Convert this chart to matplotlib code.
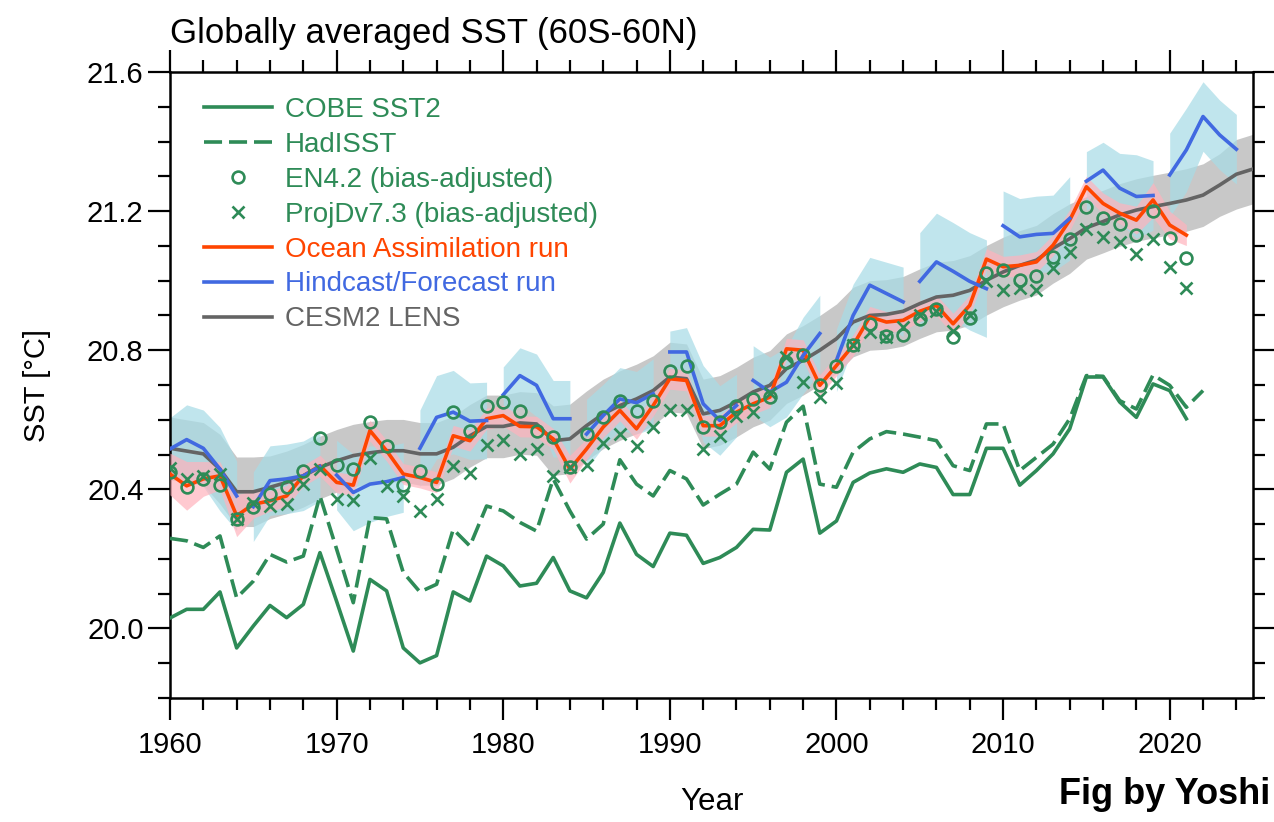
import numpy as np
import matplotlib
matplotlib.use("Agg")
import matplotlib.pyplot as plt
from matplotlib.ticker import MultipleLocator

plt.rcParams['font.family'] = ['Liberation Sans', 'DejaVu Sans']
plt.rcParams['lines.scale_dashes'] = False

# ---------------- data ----------------
cobe_years = list(range(1960, 2022))
cobe = [20.030, 20.055, 20.055, 20.105, 19.944, 20.007, 20.066, 20.031, 20.069, 20.218,
        20.078, 19.935, 20.141, 20.108, 19.944, 19.901, 19.922, 20.105, 20.079, 20.208,
        20.180, 20.122, 20.130, 20.204, 20.108, 20.088, 20.161, 20.303, 20.213, 20.178,
        20.274, 20.268, 20.187, 20.204, 20.233, 20.285, 20.283, 20.449, 20.487, 20.274,
        20.309, 20.420, 20.447, 20.459, 20.449, 20.473, 20.463, 20.385, 20.385, 20.518,
        20.518, 20.412, 20.454, 20.502, 20.574, 20.723, 20.723, 20.651, 20.607, 20.703,
        20.684, 20.603]

had_years = list(range(1960, 2023))
hadisst = [20.259, 20.252, 20.233, 20.266, 20.088, 20.136, 20.213, 20.191, 20.208, 20.381,
           20.228, 20.074, 20.319, 20.315, 20.161, 20.105, 20.127, 20.285, 20.237, 20.352,
           20.338, 20.305, 20.280, 20.430, 20.338, 20.257, 20.300, 20.485, 20.415, 20.381,
           20.454, 20.430, 20.355, 20.386, 20.415, 20.507, 20.458, 20.593, 20.639, 20.415,
           20.406, 20.507, 20.545, 20.566, 20.559, 20.550, 20.540, 20.468, 20.454, 20.588,
           20.588, 20.454, 20.492, 20.530, 20.603, 20.727, 20.725, 20.655, 20.631, 20.729,
           20.699, 20.636, 20.684]

obs_years = list(range(1960, 2022))
en4 = [20.450, 20.406, 20.430, 20.412, 20.314, 20.348, 20.386, 20.406, 20.454, 20.547,
       20.470, 20.458, 20.593, 20.524, 20.412, 20.454, 20.415, 20.622, 20.567, 20.639,
       20.651, 20.624, 20.568, 20.550, 20.463, 20.559, 20.607, 20.655, 20.624, 20.653,
       20.739, 20.756, 20.579, 20.595, 20.641, 20.660, 20.665, 20.766, 20.785, 20.699,
       20.756, 20.814, 20.876, 20.840, 20.843, 20.889, 20.918, 20.838, 20.893, 21.021,
       21.030, 21.001, 21.014, 21.069, 21.121, 21.213, 21.179, 21.162, 21.131, 21.200,
       21.124, 21.064]
projd = [20.460, 20.430, 20.439, 20.444, 20.314, 20.360, 20.353, 20.357, 20.415, 20.458,
         20.372, 20.370, 20.489, 20.410, 20.381, 20.338, 20.372, 20.468, 20.447, 20.528,
         20.543, 20.502, 20.515, 20.437, 20.463, 20.470, 20.533, 20.559, 20.526, 20.579,
         20.627, 20.627, 20.516, 20.554, 20.612, 20.622, 20.677, 20.780, 20.708, 20.665,
         20.706, 20.814, 20.852, 20.837, 20.867, 20.900, 20.912, 20.854, 20.902, 20.998,
         20.972, 20.979, 20.972, 21.035, 21.083, 21.150, 21.126, 21.110, 21.078, 21.121,
         21.040, 20.979]

oar_years = list(range(1960, 2022))
oar = [20.444, 20.410, 20.430, 20.439, 20.324, 20.357, 20.367, 20.381, 20.439, 20.468,
       20.420, 20.412, 20.569, 20.511, 20.444, 20.434, 20.420, 20.554, 20.540, 20.603,
       20.612, 20.581, 20.580, 20.545, 20.458, 20.516, 20.579, 20.627, 20.574, 20.641,
       20.718, 20.713, 20.583, 20.583, 20.622, 20.646, 20.665, 20.804, 20.800, 20.699,
       20.756, 20.814, 20.896, 20.881, 20.886, 20.912, 20.929, 20.876, 20.929, 21.062,
       21.040, 21.044, 21.054, 21.102, 21.174, 21.270, 21.222, 21.194, 21.174, 21.232,
       21.160, 21.131]
oar_spread = [0.06, 0.07, 0.05, 0.04, 0.06, 0.04, 0.03, 0.03, 0.03, 0.03,
              0.03, 0.03, 0.03, 0.03, 0.03, 0.03, 0.03, 0.03, 0.03, 0.03,
              0.03, 0.03, 0.03, 0.03, 0.04, 0.03, 0.03, 0.03, 0.03, 0.03,
              0.03, 0.03, 0.03, 0.03, 0.03, 0.03, 0.03, 0.03, 0.03, 0.03,
              0.03, 0.03, 0.03, 0.03, 0.03, 0.03, 0.03, 0.03, 0.03, 0.03,
              0.03, 0.03, 0.03, 0.03, 0.03, 0.03, 0.03, 0.03, 0.04, 0.05,
              0.04, 0.03]

lens_years = list(range(1960, 2026))
lens = [20.518, 20.510, 20.502, 20.458, 20.393, 20.393, 20.406, 20.420, 20.439, 20.463,
        20.482, 20.497, 20.505, 20.511, 20.511, 20.502, 20.502, 20.521, 20.554, 20.581,
        20.581, 20.591, 20.588, 20.540, 20.545, 20.583, 20.617, 20.641, 20.660, 20.684,
        20.723, 20.718, 20.617, 20.627, 20.651, 20.680, 20.699, 20.747, 20.771, 20.800,
        20.833, 20.881, 20.900, 20.903, 20.912, 20.934, 20.953, 20.958, 20.972, 21.001,
        21.025, 21.044, 21.059, 21.093, 21.121, 21.152, 21.170, 21.189, 21.203, 21.213,
        21.222, 21.232, 21.246, 21.275, 21.306, 21.321]
lens_spread = [0.09, 0.09, 0.09, 0.10, 0.10, 0.10, 0.09, 0.09, 0.09, 0.09,
               0.09, 0.09, 0.09, 0.09, 0.09, 0.09, 0.09, 0.09, 0.09, 0.09,
               0.09, 0.09, 0.09, 0.10, 0.10, 0.10, 0.10, 0.10, 0.10, 0.10,
               0.10, 0.10, 0.10, 0.10, 0.10, 0.10, 0.10, 0.10, 0.10, 0.10,
               0.10, 0.10, 0.10, 0.10, 0.10, 0.10, 0.10, 0.10, 0.10, 0.10,
               0.10, 0.10, 0.10, 0.10, 0.10, 0.09, 0.09, 0.09, 0.09, 0.09,
               0.09, 0.09, 0.09, 0.09, 0.10, 0.10]

# Hindcast/forecast: 5-year segments starting every 5 years
hind_starts = list(range(1960, 2021, 5))
hind = [[20.516, 20.543, 20.518, 20.458, 20.381],
        [20.350, 20.425, 20.430, 20.439, 20.466],
        [20.441, 20.391, 20.415, 20.422, 20.434],
        [20.518, 20.607, 20.622, 20.596, 20.598],
        [20.672, 20.727, 20.699, 20.603, 20.603],
        [20.559, 20.612, 20.660, 20.649, 20.675],
        [20.795, 20.795, 20.646, 20.598, 20.641],
        [20.713, 20.680, 20.708, 20.785, 20.848],
        [20.771, 20.900, 20.987, 20.963, 20.939],
        [20.998, 21.054, 21.027, 20.998, 20.977],
        [21.158, 21.126, 21.133, 21.136, 21.179],
        [21.286, 21.318, 21.266, 21.242, 21.245],
        [21.304, 21.376, 21.472, 21.419, 21.378]]
hind_spread = [[0.09, 0.10, 0.11, 0.12, 0.10],
               [0.10, 0.10, 0.10, 0.10, 0.10],
               [0.10, 0.11, 0.11, 0.10, 0.10],
               [0.11, 0.12, 0.12, 0.11, 0.11],
               [0.08, 0.08, 0.09, 0.11, 0.11],
               [0.10, 0.09, 0.09, 0.09, 0.10],
               [0.06, 0.07, 0.11, 0.10, 0.09],
               [0.10, 0.10, 0.10, 0.11, 0.11],
               [0.09, 0.09, 0.08, 0.09, 0.10],
               [0.14, 0.14, 0.14, 0.14, 0.14],
               [0.10, 0.11, 0.11, 0.11, 0.12],
               [0.085, 0.08, 0.10, 0.12, 0.10],
               [0.12, 0.12, 0.10, 0.10, 0.10]]

labels = ["COBE SST2", "HadISST", "EN4.2 (bias-adjusted)", "ProjDv7.3 (bias-adjusted)",
          "Ocean Assimilation run", "Hindcast/Forecast run", "CESM2 LENS"]

# ---------------- styles ----------------
GREEN = "#2e8b57"
ORANGE = "#ff4500"
BLUE = "#4169e1"
GRAY = "#646464"
LW = 2.6

fig = plt.figure(figsize=(12.74, 8.22), dpi=100)
ax = fig.add_axes([170/1274, 1-698/822, (1253-170)/1274, (698-72)/822])

# shading
ly = np.array(lens_years); lv = np.array(lens); ls = np.array(lens_spread)
ax.fill_between(ly, lv - ls, lv + ls, color="#c8c8c8", lw=0, zorder=1)
for s, vals, spr in zip(hind_starts, hind, hind_spread):
    yrs = np.arange(s, s + len(vals))
    v = np.array(vals); sp = np.array(spr)
    ax.fill_between(yrs, v - sp, v + sp, color="#a8dce6", alpha=0.72, lw=0, zorder=2)
ov = np.array(oar); osp = np.array(oar_spread)
ax.fill_between(oar_years, ov - osp, ov + osp, color="#ffb3bd", alpha=0.7, lw=0, zorder=3)

# lines
h_lens, = ax.plot(lens_years, lens, color=GRAY, lw=LW, zorder=4)
h_cobe, = ax.plot(cobe_years, cobe, color=GREEN, lw=LW, zorder=5)
h_had, = ax.plot(had_years, hadisst, color=GREEN, lw=LW, dashes=(13, 5), zorder=5)
h_oar, = ax.plot(oar_years, oar, color=ORANGE, lw=LW, zorder=6)
h_hind = None
for s, vals in zip(hind_starts, hind):
    h_hind, = ax.plot(range(s, s + len(vals)), vals, color=BLUE, lw=LW, zorder=7)
h_en4, = ax.plot(obs_years, en4, ls="none", marker="o", ms=8.5, mfc="none", mec=GREEN, mew=1.9, zorder=8)
h_pd, = ax.plot(obs_years, projd, ls="none", marker="x", ms=8.5, mec=GREEN, mew=1.9, zorder=8)

# axes formatting
ax.set_xlim(1960, 2025)
ax.set_ylim(19.8, 21.6)
ax.xaxis.set_major_locator(MultipleLocator(10))
ax.xaxis.set_minor_locator(MultipleLocator(2))
ax.yaxis.set_major_locator(MultipleLocator(0.4))
ax.yaxis.set_minor_locator(MultipleLocator(0.1))
ax.yaxis.set_major_formatter(matplotlib.ticker.FormatStrFormatter('%.1f'))
ax.tick_params(which='both', direction='out', top=True, right=True, width=1.6, labelsize=21)
ax.tick_params(which='major', length=16)
ax.tick_params(which='minor', length=8.5)
ax.tick_params(axis='x', which='major', pad=8)
ax.tick_params(axis='y', which='major', pad=3)
for sp in ax.spines.values():
    sp.set_linewidth(1.8)

ax.set_xlabel("Year", fontsize=22.5, labelpad=20)
ax.set_ylabel("SST [°C]", fontsize=21, labelpad=26)
ax.set_title("Globally averaged SST (60S-60N)", loc="left", fontsize=25, pad=21)

leg = ax.legend([h_cobe, h_had, h_en4, h_pd, h_oar, h_hind, h_lens], labels,
                loc="upper left", bbox_to_anchor=(0.0085, 1.0), frameon=False, fontsize=20,
                handlelength=2.45, handletextpad=0.45, labelspacing=0.32, numpoints=1,
                borderaxespad=0.5)
text_colors = [GREEN, GREEN, GREEN, GREEN, ORANGE, BLUE, GRAY]
for t, c in zip(leg.get_texts(), text_colors):
    t.set_color(c)

fig.text(0.997, 0.012, "Fig by Yoshi", ha="right", va="bottom", fontsize=26, fontweight="bold")

fig.savefig("out.png", dpi=100)
